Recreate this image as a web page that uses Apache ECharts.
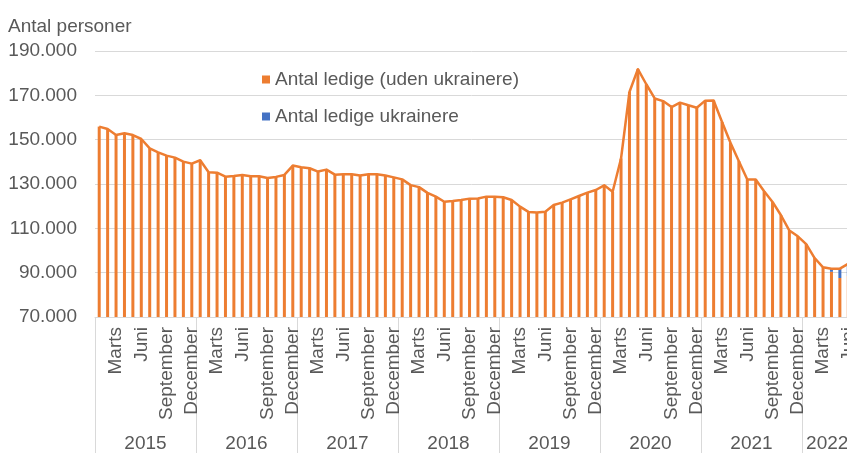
<!DOCTYPE html>
<html><head><meta charset="utf-8">
<script src="https://cdn.jsdelivr.net/npm/echarts@6/dist/echarts.min.js"></script>
<style>html,body{margin:0;padding:0;background:#fff}#c{width:847px;height:453px}</style>
</head><body><div id="c"></div>
<script>
const years = ['2015','2016','2017','2018','2019','2020','2021','2022'];
const monthNames = ['Januar','Februar','Marts','April','Maj','Juni','Juli','August','September','Oktober','November','December'];
const shownMonths = ['Marts','Juni','September','December'];
const monthsPerYear = [12,12,12,12,12,12,12,6];

const ledigeUdenUkr = [
  155900,154800,152100,152900,152100,150300,146100,144300,142800,141900,140100,139200,
  140700,135300,135100,133300,133600,134100,133500,133500,132700,133200,134100,138300,
  137600,137100,135600,136500,134200,134400,134400,133800,134400,134400,133800,133000,
  132100,129500,128600,126000,124300,122000,122300,122800,123400,123500,124300,124300,
  124000,122800,119800,117400,117100,117500,120500,121600,123100,124600,126100,127300,
  129400,126500,141500,171500,181800,175000,168600,167400,164700,166700,165500,164400,
  167600,167700,158000,148600,140300,132000,132000,126700,121900,115900,109000,106400,
  102900,96600,92400,90400,87600,88500
];
const ledigeUkr = [
  0,0,0,0,0,0,0,0,0,0,0,0,
  0,0,0,0,0,0,0,0,0,0,0,0,
  0,0,0,0,0,0,0,0,0,0,0,0,
  0,0,0,0,0,0,0,0,0,0,0,0,
  0,0,0,0,0,0,0,0,0,0,0,0,
  0,0,0,0,0,0,0,0,0,0,0,0,
  0,0,0,0,0,0,0,0,0,0,0,0,
  0,0,0,1400,4200,5500
];

const categories = [];
const midIndex = {};
years.forEach((y, yi) => {
  for (let m = 0; m < monthsPerYear[yi]; m++) {
    if (m === Math.floor(monthsPerYear[yi] / 2)) midIndex[categories.length] = true;
    categories.push(monthNames[m] + ' ' + y);
  }
});
const totals = ledigeUdenUkr.map((v, i) => v + ledigeUkr[i]);

const txt = '#595959';
const font = 'Liberation Sans, Arial, sans-serif';
const fmt = v => String(v).replace(/\B(?=(\d{3})+(?!\d))/g, '.');

const chart = echarts.init(document.getElementById('c'), null, {renderer: 'canvas'});
chart.setOption({
  animation: false,
  backgroundColor: '#fff',
  textStyle: {fontFamily: font},
  title: {text: 'Antal personer', left: 3, top: 12,
    textStyle: {fontSize: 19, fontWeight: 'normal', color: txt, fontFamily: font}},
  legend: {
    data: ['Antal ledige (uden ukrainere)', 'Antal ledige ukrainere'],
    orient: 'vertical', left: 262, top: 70, itemGap: 18, padding: 0,
    icon: 'rect', itemWidth: 8, itemHeight: 8,
    textStyle: {fontSize: 19, color: txt, fontFamily: font}
  },
  grid: {left: 95, width: 757.5, top: 51, bottom: 136, containLabel: false, outerBoundsMode: 'none'},
  xAxis: [{
    type: 'category', data: categories, position: 'bottom',
    axisLine: {show: true, lineStyle: {color: '#d9d9d9', width: 1}},
    axisTick: {show: false},
    axisLabel: {
      interval: (i, v) => shownMonths.includes(v.split(' ')[0]),
      formatter: v => v.split(' ')[0],
      rotate: 90, margin: 10, fontSize: 19, color: txt, fontFamily: font
    }
  }, {
    type: 'category', data: categories, position: 'bottom', gridIndex: 0,
    axisLine: {show: false},
    axisTick: {show: true, interval: (i, v) => v.startsWith('Januar'), length: 136,
      lineStyle: {color: '#d9d9d9', width: 1}},
    axisLabel: {
      interval: (i) => !!midIndex[i],
      formatter: v => v.split(' ')[1],
      margin: 117, fontSize: 19, color: txt, fontFamily: font,
      padding: [0, 8.4, 0, 0]
    }
  }],
  yAxis: {
    type: 'value', min: 70000, max: 190000, interval: 20000,
    axisLine: {show: false}, axisTick: {show: false},
    axisLabel: {formatter: fmt, margin: 18, fontSize: 19, color: txt, fontFamily: font},
    splitLine: {lineStyle: {color: '#d9d9d9', width: 1}}
  },
  series: [{
    name: 'Antal ledige (uden ukrainere)', type: 'bar', stack: 'a', xAxisIndex: 0,
    data: ledigeUdenUkr, barWidth: 3, itemStyle: {color: '#ED7D31'}
  }, {
    name: 'Antal ledige ukrainere', type: 'bar', stack: 'a', xAxisIndex: 0,
    data: ledigeUkr, barWidth: 3, itemStyle: {color: '#4472C4'}
  }, {
    name: 'Total', type: 'line', xAxisIndex: 0, data: totals, z: 5,
    showSymbol: false, symbol: 'none', smooth: false,
    lineStyle: {color: '#ED7D31', width: 2.5, join: 'round'}, itemStyle: {color: '#ED7D31'}
  }]
});
</script></body></html>
